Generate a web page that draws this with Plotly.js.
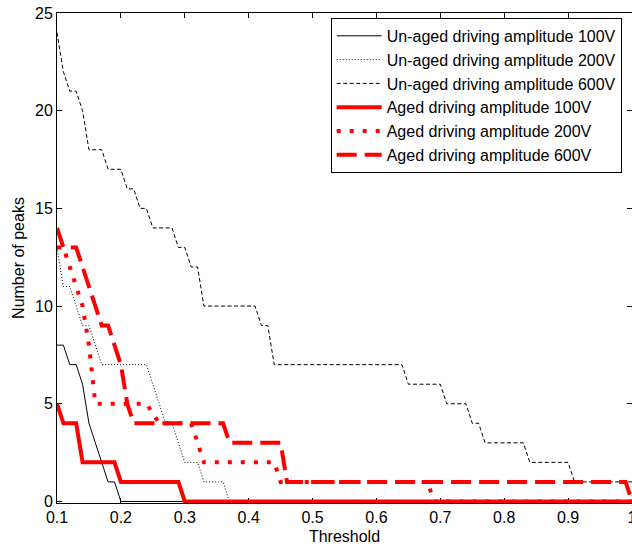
<!DOCTYPE html>
<html>
<head>
<meta charset="utf-8">
<script src="https://cdn.plot.ly/plotly-3.0.1.min.js"></script>
<style>html,body{margin:0;padding:0;background:#fff;}#chart{width:632px;height:548px;}</style>
</head>
<body>
<div id="chart"></div>
<script>
// Series names
var seriesNames = [
  "Un-aged driving amplitude 100V",
  "Un-aged driving amplitude 200V",
  "Un-aged driving amplitude 600V",
  "Aged driving amplitude 100V",
  "Aged driving amplitude 200V",
  "Aged driving amplitude 600V"
];

// Un-aged 100V
var unaged100X = [0.10,0.11,0.12,0.13,0.14,0.15,0.16,0.17,0.18,0.19,0.20,1.00];
var unaged100Y = [8,8,7,7,6,4,3,2,1,1,0,0];

// Un-aged 200V
var unaged200X = [0.10,0.11,0.12,0.13,0.14,0.15,0.16,0.17,0.24,0.25,0.26,0.27,0.28,0.29,0.30,0.31,0.32,0.33,0.36,0.37,1.00];
var unaged200Y = [13,11,11,10,9,9,8,7,7,6,5,4,4,3,2,2,2,1,1,0,0];

// Un-aged 600V
var unaged600X = [0.10,0.11,0.12,0.13,0.14,0.15,0.17,0.18,0.20,0.21,0.22,0.23,0.24,0.25,0.28,0.29,0.30,0.31,0.32,0.33,0.41,0.42,0.43,0.44,0.64,0.65,0.70,0.71,0.74,0.75,0.76,0.77,0.83,0.84,0.90,0.91,1.00];
var unaged600Y = [24,22,21,21,20,18,18,17,17,16,16,15,15,14,14,13,13,12,12,10,10,9,9,7,7,6,6,5,5,4,4,3,3,2,2,1,1];

// Aged 100V
var aged100X = [0.10,0.11,0.13,0.14,0.19,0.20,0.29,0.30,1.00];
var aged100Y = [5,4,4,2,2,1,1,0,0];

// Aged 200V
var aged200X = [0.10,0.11,0.12,0.13,0.14,0.15,0.16,0.24,0.26,0.31,0.32,0.33,0.44,0.45,0.68,0.69,1.00];
var aged200Y = [13,13,12,11,10,8,5,5,4,4,3,2,2,1,1,0,0];

// Aged 600V
var aged600X = [0.10,0.11,0.13,0.14,0.15,0.16,0.17,0.18,0.19,0.20,0.21,0.22,0.36,0.37,0.45,0.46,0.99,1.00];
var aged600Y = [14,13,13,12,11,10,9,9,8,7,5,4,4,3,3,1,1,0];

var xTicks = [0.1,0.2,0.3,0.4,0.5,0.6,0.7,0.8,0.9,1];
var xTickText = ["0.1","0.2","0.3","0.4","0.5","0.6","0.7","0.8","0.9","1"];
var yTicks = [0,5,10,15,20,25];

var FONT = "Liberation Sans, Arial, sans-serif";

var traces = [
  {x: unaged100X, y: unaged100Y, name: seriesNames[0], mode: "lines",
   line: {color: "#000", width: 1}},
  {x: unaged200X, y: unaged200Y, name: seriesNames[1], mode: "lines",
   line: {color: "#000", width: 1, dash: "1px,2px"}},
  {x: unaged600X, y: unaged600Y, name: seriesNames[2], mode: "lines",
   line: {color: "#000", width: 1, dash: "4px,2.5px"}},
  {x: aged100X, y: aged100Y, name: seriesNames[3], mode: "lines",
   line: {color: "#ff0000", width: 4}},
  {x: aged200X, y: aged200Y, name: seriesNames[4], mode: "lines",
   line: {color: "#ff0000", width: 4, dash: "4px,9px"}},
  {x: aged600X, y: aged600Y, name: seriesNames[5], mode: "lines",
   line: {color: "#ff0000", width: 4, dash: "20px,8px"}}
];

var layout = {
  width: 632, height: 548,
  margin: {l: 57, r: 0, t: 13, b: 45, pad: 0},
  paper_bgcolor: "#fff", plot_bgcolor: "#fff",
  font: {family: FONT, size: 16, color: "#000"},
  showlegend: true,
  legend: {
    x: 0.476, y: 0.99, xanchor: "left", yanchor: "top",
    bgcolor: "#fff", bordercolor: "#000", borderwidth: 1,
    font: {family: FONT, size: 16, color: "#000"},
    itemwidth: 45
  },
  xaxis: {
    range: [0.1, 1.0], tickvals: xTicks, ticktext: xTickText,
    ticks: "inside", ticklen: 5, tickwidth: 1, tickcolor: "#000",
    showline: true, linecolor: "#000", linewidth: 1, mirror: "ticks",
    showgrid: false, zeroline: false, layer: "below traces",
    ticklabeloverflow: "allow",
    tickfont: {family: FONT, size: 16, color: "#000"},
    title: {text: "Threshold", font: {family: FONT, size: 16, color: "#000"}, standoff: 5}
  },
  yaxis: {
    range: [-0.08, 25], tickvals: yTicks,
    ticks: "inside", ticklen: 5, tickwidth: 1, tickcolor: "#000",
    showline: true, linecolor: "#000", linewidth: 1, mirror: "ticks",
    showgrid: false, zeroline: false, layer: "below traces",
    tickfont: {family: FONT, size: 16, color: "#000"},
    title: {text: "Number of peaks", font: {family: FONT, size: 16, color: "#000"}, standoff: 6}
  }
};

Plotly.newPlot("chart", traces, layout, {displayModeBar: false, staticPlot: true});
</script>
</body>
</html>
